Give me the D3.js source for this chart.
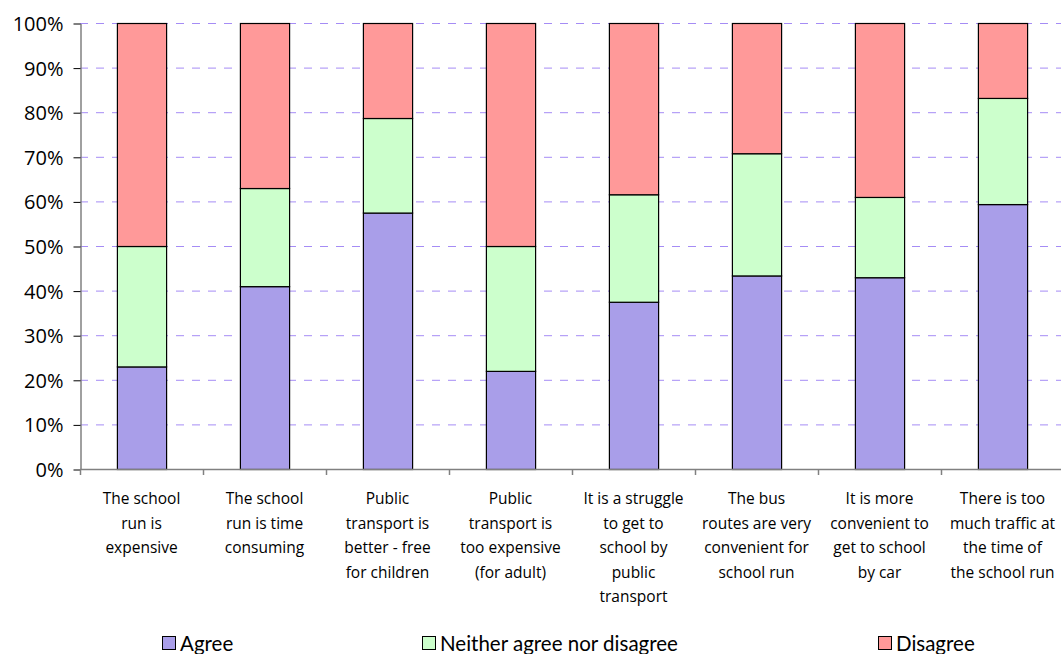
<!DOCTYPE html>
<html><head><meta charset="utf-8">
<script src="https://cdn.jsdelivr.net/npm/d3@7"></script>
<style>body{margin:0;background:#fff;} svg{display:block;font-family:Lato, "Open Sans", sans-serif;}</style>
</head><body>
<svg id="c" width="1061" height="654"></svg>
<script>
const categories = [
  ["The school","run is","expensive"],
  ["The school","run is time","consuming"],
  ["Public","transport is","better - free","for children"],
  ["Public","transport is","too expensive","(for adult)"],
  ["It is a struggle","to get to","school by","public","transport"],
  ["The bus","routes are very","convenient for","school run"],
  ["It is more","convenient to","get to school","by car"],
  ["There is too","much traffic at","the time of","the school run"]
];
const agree    = [23, 41, 57.5, 22, 37.5, 43.4, 43, 59.4];
const neither  = [27, 22, 21.2, 28, 24.1, 27.4, 18, 23.8];
const disagree = [50, 37, 21.3, 50, 38.4, 29.2, 39, 16.8];
const seriesNames = ["Agree","Neither agree nor disagree","Disagree"];
const yTicks = [0,10,20,30,40,50,60,70,80,90,100];
const colors = ["#a99ee9","#ccffcc","#ff9999"];

(function(){
const svg = d3.select("#c");
const pl = 80, pr = 1064, pt = 23, pb = 469;
const idx = d3.range(categories.length);
const x = d3.scaleBand().domain(idx).range([pl, pr]).paddingInner(0.6).paddingOuter(0.3);
const xb = d3.scaleBand().domain(idx).range([pl, pr]);
const y = d3.scaleLinear().domain([0,100]).range([pb, pt]);

svg.append("g").selectAll("line").data(yTicks.filter(d=>d>0)).join("line")
  .attr("x1", pl).attr("x2", pr)
  .attr("y1", d=>y(d)+0.5).attr("y2", d=>y(d)+0.5)
  .attr("stroke", "#a58cf5").attr("stroke-width", 1).attr("stroke-dasharray", "8,8");

const rows = idx.map(i => ({i, Agree: agree[i], Neither: neither[i], Disagree: disagree[i]}));
const stack = d3.stack().keys(["Agree","Neither","Disagree"])(rows);
svg.append("g").selectAll("g").data(stack).join("g")
  .attr("fill", (d,k)=>colors[k])
  .selectAll("rect").data(d=>d).join("rect")
  .attr("x", d=>x(d.data.i)+0.5)
  .attr("width", x.bandwidth())
  .attr("y", d=>y(d[1])+0.5)
  .attr("height", d=>y(d[0])-y(d[1]))
  .attr("stroke", "#000").attr("stroke-width", 1.2);

const yAxis = d3.axisLeft(y).tickValues(yTicks).tickFormat(d=>d+"%").tickSize(7).tickSizeOuter(0);
const ga = svg.append("g").attr("transform", `translate(${pl+0.5},0.5)`).call(yAxis);
ga.select(".domain").attr("stroke", "#808080").attr("stroke-width", 1.5);
ga.selectAll(".tick line").attr("stroke", "#000");
ga.selectAll("text").attr("font-size", 20).attr("fill", "#000").attr("x", -17).attr("dy", "0.35em")
  .attr("font-family", "'Open Sans', Lato, sans-serif");

svg.append("line").attr("x1", pl).attr("x2", pr).attr("y1", pb+0.5).attr("y2", pb+0.5)
  .attr("stroke", "#808080").attr("stroke-width", 1.5);
svg.append("g").selectAll("line").data(d3.range(categories.length+1)).join("line")
  .attr("x1", d=>pl + d*xb.bandwidth()+0.5).attr("x2", d=>pl + d*xb.bandwidth()+0.5)
  .attr("y1", pb).attr("y2", pb+6).attr("stroke", "#808080").attr("stroke-width", 1.5);

const lab = svg.append("g").selectAll("text").data(idx).join("text")
  .attr("text-anchor", "middle").attr("font-size", 15.5).attr("fill", "#000")
  .attr("font-family", "'Open Sans', Lato, sans-serif")
  .attr("transform", i=>`translate(${xb(i)+xb.bandwidth()/2},504)`);
lab.selectAll("tspan").data(i=>categories[i]).join("tspan")
  .attr("x", 0).attr("y", (d,k)=>k*24.6).text(d=>d);

const legX = [162, 422, 878];
const leg = svg.append("g").selectAll("g").data(seriesNames).join("g")
  .attr("transform", (d,k)=>`translate(${legX[k]},636)`);
leg.append("rect").attr("width", 13).attr("height", 13).attr("x", 0.5).attr("y", 0.5)
  .attr("fill", (d,k)=>colors[k]).attr("stroke", "#000").attr("stroke-width", 1);
leg.append("text").attr("x", 18).attr("y", 14.5).attr("font-size", 20.5).attr("fill", "#000").text(d=>d);
})();
</script>
</body></html>
